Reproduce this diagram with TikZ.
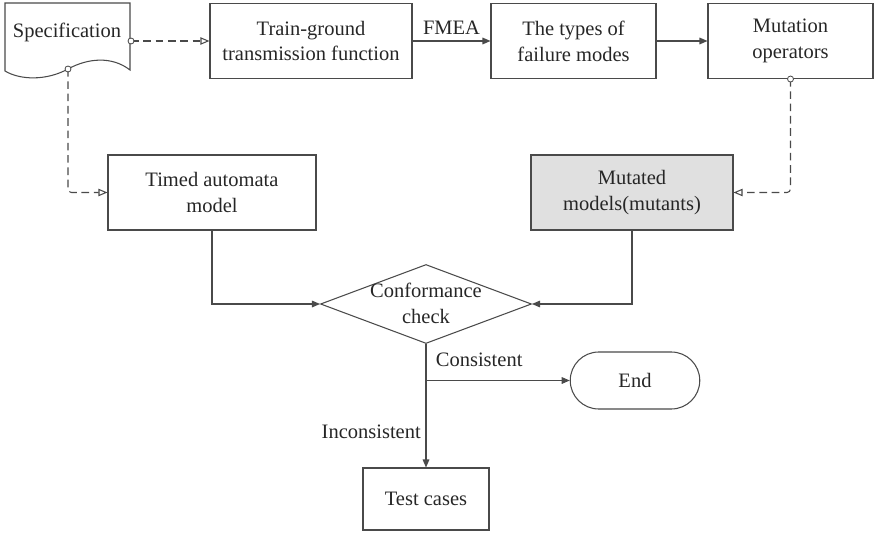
\documentclass[tikz,border=0pt]{standalone}
\usepackage{fontspec}
\setmainfont{Liberation Serif}
\newfontfamily\diagfont{Liberation Serif}
\usepackage{tikz}
\usetikzlibrary{arrows.meta,positioning,calc,shapes.misc,shapes.geometric}
\definecolor{LineGrey}{HTML}{4A4A4A}
\definecolor{MutantFill}{HTML}{E0E0E0}

\begin{document}
\begin{tikzpicture}[x=0.03cm,y=-0.03cm,
    font=\diagfont\fontsize{17.5}{22}\selectfont,
    every node/.style={text=black!85},
    box/.style={draw=LineGrey,line width=0.9pt,align=center,minimum height=2.25cm},
    decision/.style={draw=LineGrey,line width=0.9pt,diamond,inner sep=0pt,minimum width=6.33cm,minimum height=2.37cm},
    flow/.style={LineGrey,line width=0.9pt,-{Triangle[length=2.4mm,width=2mm]}},
    dataflow/.style={LineGrey,line width=0.9pt,dash pattern=on 6.5pt off 4pt,-{Triangle[open,length=2.7mm,width=2.2mm]}},
    port/.style={draw=LineGrey,line width=0.7pt,fill=white,circle,inner sep=0pt,minimum size=0.18cm}]
  \useasboundingbox (0,0) rectangle (874,536);

  % specification document with wavy bottom
  \draw[LineGrey,line width=0.9pt] (5,3) -- (130,3) -- (130,70)
    .. controls (112,56) and (88,58) .. (68,69)
    .. controls (46,81) and (20,80) .. (5,71) -- cycle;
  \node (spec) at (67,32) {Specification};
  \coordinate (specR) at (131,41);
  \coordinate (specB) at (68,69);

  % top row
  \node[box,minimum width=6.06cm] (tg) at (311,41) {Train-ground\\transmission function};
  \node[box,minimum width=4.95cm] (ft) at (573.5,41) {The types of\\failure modes};
  \node[box,minimum width=4.95cm] (mo) at (790.5,41) {Mutation\\operators};

  % models
  \node[box,minimum width=6.24cm] (ta) at (212,192.5) {Timed automata\\model};
  \node[box,minimum width=6.06cm,fill=MutantFill] (mm) at (632,192.5) {Mutated\\models(mutants)};

  % check and results
  \node[decision] (cc) at (426,304) {};
  \node[align=center] (cctext) at (426,303) {Conformance\\check};
  \node[draw=LineGrey,line width=0.9pt,rounded rectangle,minimum width=4.12cm,minimum height=1.71cm] (end) at (635,380.5) {End};
  \node[box,minimum width=3.78cm,minimum height=1.86cm] (tc) at (426,499) {Test cases};
  \coordinate (split) at (426,380.5);

  % connectors
  \draw[dataflow] (specR) -- (tg.west);
  \draw[flow] (tg) -- (ft) node[midway,above,inner sep=5pt]{FMEA};
  \draw[flow] (ft) -- (mo);
  \draw[dataflow,rounded corners=3pt] (specB) |- (ta.west);
  \draw[dataflow,rounded corners=3pt] (mo.south) |- (mm.east);
  \draw[flow] (ta.south) |- (cc.west);
  \draw[flow] (mm.south) |- (cc.east);
  \draw[flow] (cc.south) -- (tc.north) node[pos=0.71,left,inner sep=4pt]{Inconsistent};
  \draw[flow] (split) -- (end.west) node[pos=0.37,above,inner sep=11pt]{Consistent};

  \node[port] at (specR) {};
  \node[port] at (specB) {};
  \node[port] at (mo.south) {};
\end{tikzpicture}
\end{document}
